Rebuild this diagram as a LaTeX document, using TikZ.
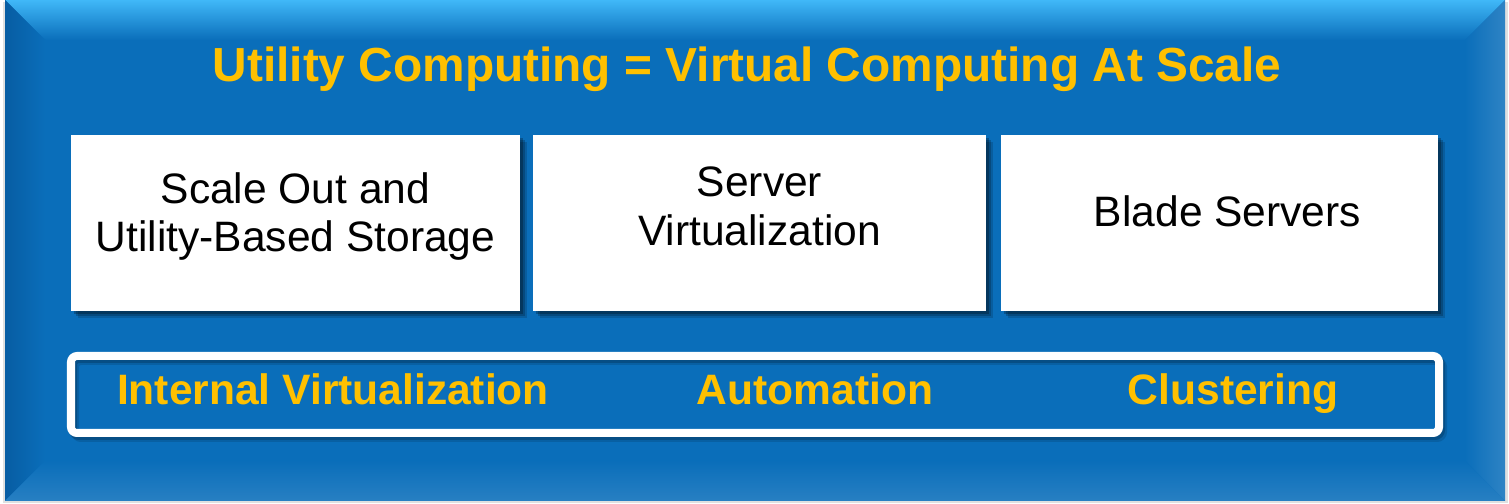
\documentclass[tikz,border=0pt]{standalone}
\usepackage{fontspec}
\setmainfont{Liberation Sans}
\usetikzlibrary{shadows}
\definecolor{panel}{HTML}{0A6EBA}
\definecolor{panellight}{HTML}{40B8F8}
\definecolor{paneldark}{HTML}{075DA3}
\definecolor{gold}{HTML}{FFC000}
\tikzset{
  card/.style={fill=white, draw=none, inner sep=0pt, align=center,
    minimum height=1.76cm,
    font=\fontsize{12.1}{13.9}\selectfont,
    drop shadow={shadow xshift=0.07cm, shadow yshift=-0.07cm, opacity=0.15, fill=black},
    drop shadow={shadow xshift=0.05cm, shadow yshift=-0.05cm, opacity=0.2, fill=black},
    drop shadow={shadow xshift=0.03cm, shadow yshift=-0.03cm, opacity=0.25, fill=black}},
  goldlabel/.style={text=gold, font=\bfseries\fontsize{12.1}{14}\selectfont, inner sep=0pt, anchor=base},
  framestyle/.style={white, line width=0.08cm, rounded corners=0.06cm},
  frameshadow/.style={black, line width=0.08cm, rounded corners=0.06cm},
}
\newcommand{\cardlines}[2]{\raisebox{#1}[0pt][0pt]{\begin{tabular}{@{}c@{}}#2\end{tabular}}}
\begin{document}
\begin{tikzpicture}[x=0.01cm,y=-0.01cm]
\useasboundingbox (0,0) rectangle (1509,504);
% outer soft shadow
\fill[black!12] (3,2) rectangle (1508,503);
% panel
\fill[panel] (5,0) rectangle (1505,501);
% top bevel
\shade[top color=panellight, bottom color=panel] (5,0) -- (1505,0) -- (1465,40) -- (45,40) -- cycle;
% left bevel
\shade[left color=paneldark, right color=panel] (5,0) -- (45,40) -- (45,461) -- (5,501) -- cycle;
% right bevel
\shade[left color=panel, right color=panel!85!white] (1505,0) -- (1465,40) -- (1465,461) -- (1505,501) -- cycle;
% bottom bevel
\shade[top color=panel, bottom color=panel!88!white] (5,501) -- (45,461) -- (1465,461) -- (1505,501) -- cycle;

% title
\node[text=gold, font=\bfseries\fontsize{13.6}{16}\selectfont, inner sep=0pt, anchor=base] (title) at (747,82) {Utility Computing = Virtual Computing At Scale};

% cards
\node[card, minimum width=4.49cm] (storage) at (295.5,223) {\cardlines{-0.053cm}{Scale Out and\\Utility-Based Storage}};
\node[card, minimum width=4.53cm] (virt) at (759.5,223) {\cardlines{0.01cm}{Server\\Virtualization}};
\node[card, minimum width=4.37cm, text height=0.08cm, text depth=0pt] (blade) at (1219.5,223) {\hspace*{0.16cm}Blade Servers};

% bottom frame
\draw[frameshadow, opacity=0.12] (75,361) rectangle (1443,438);
\draw[frameshadow, opacity=0.18] (73,359) rectangle (1441,436);
\draw[framestyle] (71,356) rectangle (1439,433);
\node[goldlabel] (internal) at (333,405) {Internal Virtualization};
\node[goldlabel] (auto) at (815,405) {Automation};
\node[goldlabel] (cluster) at (1233,405) {Clustering};
\end{tikzpicture}
\end{document}
